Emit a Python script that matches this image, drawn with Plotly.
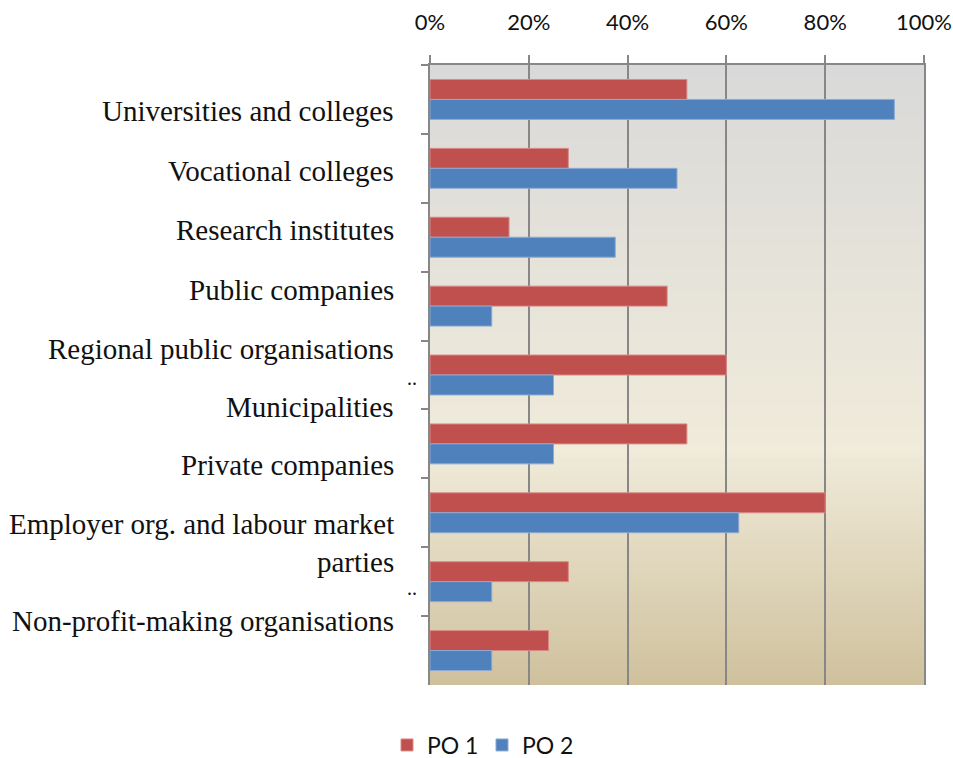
import plotly.graph_objects as go

# Partner categories (top to bottom) and share of projects per programme
categories = [
    "Universities and colleges",
    "Vocational colleges",
    "Research institutes",
    "Public companies",
    "Regional public organisations",
    "Municipalities",
    "Private companies",
    "Employer org. and labour market parties",
    "Non-profit-making organisations",
]
po1 = [0.52, 0.28, 0.16, 0.48, 0.60, 0.52, 0.80, 0.28, 0.24]
po2 = [0.94, 0.50, 0.375, 0.125, 0.25, 0.25, 0.625, 0.125, 0.125]
series_names = ["PO 1", "PO 2"]
x_ticks = [0, 0.2, 0.4, 0.6, 0.8, 1.0]

RED = "#c0504d"
BLUE = "#4f81bd"
AXIS_GREY = "#878787"

fig = go.Figure()
fig.add_trace(go.Bar(y=categories, x=po1, name=series_names[0], orientation="h",
                     marker=dict(color=RED, line=dict(color="#d98a88", width=1))))
fig.add_trace(go.Bar(y=categories, x=po2, name=series_names[1], orientation="h",
                     marker=dict(color=BLUE, line=dict(color="#8eaad3", width=1))))

# Vertical gradient behind the plot area: grey -> cream -> tan
stops = [(0.0, (217, 217, 217)), (0.62, (240, 235, 218)), (1.0, (207, 193, 157))]


def grad_colour(t):
    for (t0, c0), (t1, c1) in zip(stops[:-1], stops[1:]):
        if t0 <= t <= t1:
            f = (t - t0) / (t1 - t0)
            return "rgb(%d,%d,%d)" % tuple(round(a + (b - a) * f) for a, b in zip(c0, c1))
    return "rgb(%d,%d,%d)" % stops[-1][1]


n_strips = 120
shapes = []
for k in range(n_strips):
    top = 1 - k / n_strips
    bot = 1 - (k + 1) / n_strips
    shapes.append(dict(type="rect", xref="x domain", yref="y domain",
                       x0=0, x1=1, y0=max(bot - 0.002, 0), y1=top,
                       fillcolor=grad_colour((k + 0.5) / n_strips),
                       line=dict(width=0), layer="below"))

# Plot-area geometry in pixels (used to place the side labels)
PLOT_LEFT, PLOT_RIGHT = 430, 924
PLOT_TOP, PLOT_BOTTOM = 65, 685
W, H = 953, 758
plot_w = PLOT_RIGHT - PLOT_LEFT
plot_h = PLOT_BOTTOM - PLOT_TOP

# Category labels drawn to the left of the axis
label_y = [111, 171, 230, 290, 349, 407, 465, 543, 621]
annotations = []
for name, py in zip(categories, label_y):
    text = name
    if name.startswith("Employer"):
        text = "Employer org. and labour market<br>parties"
    annotations.append(dict(
        text=text, xref="paper", yref="paper",
        x=(396 - PLOT_LEFT) / plot_w, y=(PLOT_BOTTOM - py) / plot_h,
        xanchor="right", yanchor="middle", align="right", showarrow=False,
        font=dict(family="Liberation Serif", size=29, color="#111111"),
    ))
for py in (378, 588):
    annotations.append(dict(
        text="..", xref="paper", yref="paper",
        x=(412 - PLOT_LEFT) / plot_w, y=(PLOT_BOTTOM - py) / plot_h,
        xanchor="center", yanchor="middle", showarrow=False,
        font=dict(family="Liberation Serif", size=20, color="#111111"),
    ))

fig.update_layout(
    width=W, height=H,
    margin=dict(l=PLOT_LEFT, r=W - PLOT_RIGHT, t=PLOT_TOP, b=H - PLOT_BOTTOM,
                autoexpand=False),
    paper_bgcolor="white", plot_bgcolor="rgba(0,0,0,0)",
    barmode="group", bargap=0.42, bargroupgap=0,
    shapes=shapes, annotations=annotations,
    showlegend=True,
    legend=dict(orientation="h", x=(387 - PLOT_LEFT) / plot_w,
                y=(PLOT_BOTTOM - 745) / plot_h,
                xanchor="left", yanchor="middle",
                font=dict(family="Lato", size=23, color="#111111"),
                entrywidth=50, entrywidthmode="pixels",
                itemwidth=30, tracegroupgap=0, bgcolor="rgba(0,0,0,0)"),
    xaxis=dict(side="top", range=[0, 1.0], tickvals=x_ticks, tickformat=".0%",
               showgrid=True, gridcolor=AXIS_GREY, gridwidth=2,
               showline=True, linecolor=AXIS_GREY, linewidth=2,
               ticks="outside", ticklen=8, tickwidth=2, tickcolor=AXIS_GREY,
               ticklabelstandoff=16,
               tickfont=dict(family="Lato", size=22, color="#111111"),
               zeroline=False, fixedrange=True, automargin=False),
    yaxis=dict(categoryorder="array", categoryarray=categories, autorange="reversed",
               showticklabels=False, tickson="boundaries",
               ticks="outside", ticklen=7, tickwidth=2, tickcolor=AXIS_GREY,
               showline=True, linecolor=AXIS_GREY, linewidth=2, mirror=True,
               showgrid=False, zeroline=False, fixedrange=True, automargin=False),
)

fig.write_html("out.html")
